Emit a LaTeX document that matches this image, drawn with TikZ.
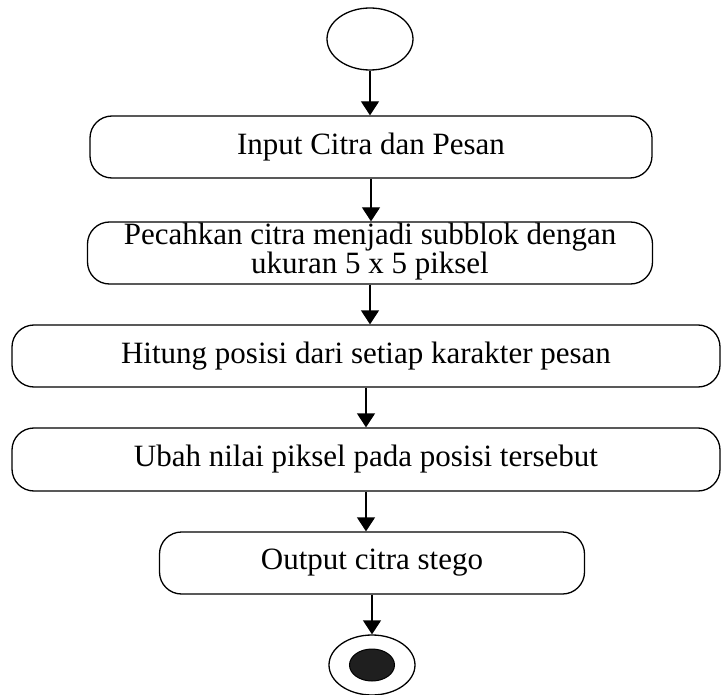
\documentclass[tikz,border=0pt]{standalone}
\usepackage{fontspec}
\setmainfont{Liberation Serif}
\usetikzlibrary{arrows.meta,shapes.geometric}

\begin{document}
\begin{tikzpicture}[x=1pt,y=-1pt,>={Triangle[length=14pt,width=18pt]},
  act/.style={draw,line width=1.3pt,rounded corners=22pt,align=center,inner sep=0pt,minimum height=62pt,font=\fontsize{31}{29}\selectfont},
  flow/.style={->,line width=1.3pt}]
\useasboundingbox (0,0) rectangle (723,695);
\node[draw,ellipse,line width=1.3pt,minimum width=86pt,minimum height=62pt,inner sep=0pt] (mulai) at (370,39) {};
\node[act,minimum width=562pt] (input) at (371,147) {Input Citra dan Pesan};
\node[act,minimum width=565pt,text depth=10pt] (pecah) at (370,253) {Pecahkan citra menjadi subblok dengan\\ukuran 5 x 5 piksel};
\node[act,minimum width=708pt] (hitung) at (366,356) {Hitung posisi dari setiap karakter pesan};
\node[act,minimum width=708pt,minimum height=63pt] (ubah) at (366,459.5) {Ubah nilai piksel pada posisi tersebut};
\node[act,minimum width=425pt] (keluaran) at (372,563) {Output citra stego};
\node[draw,ellipse,line width=1.3pt,minimum width=86pt,minimum height=60pt,inner sep=0pt] (selesai) at (372,665) {};
\node[draw,ellipse,fill=black!88,line width=1pt,minimum width=45pt,minimum height=32pt,inner sep=0pt] (selesaiin) at (selesai) {};
\draw[flow] (mulai.south) -- (mulai.south |- input.north);
\draw[flow] (input.south) -- (input.south |- pecah.north);
\draw[flow] (pecah.south) -- (pecah.south |- hitung.north);
\draw[flow] (hitung.south) -- (hitung.south |- ubah.north);
\draw[flow] (ubah.south) -- (ubah.south |- keluaran.north);
\draw[flow] (keluaran) -- (selesai);
\end{tikzpicture}
\end{document}
